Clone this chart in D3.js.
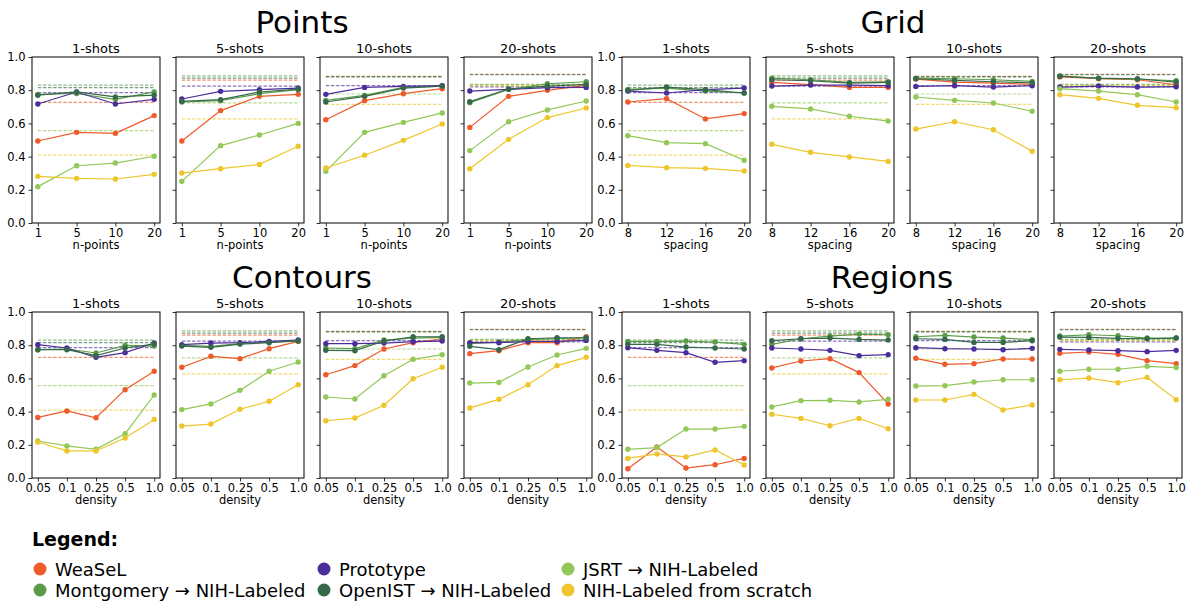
<!DOCTYPE html>
<html>
<head>
<meta charset="utf-8">
<script src="https://d3js.org/d3.v7.min.js"></script>
<style>
  body { margin: 0; background: #fff; }
  text { font-family: "DejaVu Sans", sans-serif; fill: #000; }
</style>
</head>
<body>
<div id="svg"></div>
<script>
// series, in legend order (column-major, 3 columns)
var seriesNames = ["WeaSeL", "Montgomery \u2192 NIH-Labeled", "Prototype", "OpenIST \u2192 NIH-Labeled", "JSRT \u2192 NIH-Labeled", "NIH-Labeled from scratch"];
var seriesColors = ["#ef5a2a", "#5b9c48", "#4b2d9b", "#36684a", "#92c857", "#eec62b"];

var groupNames = ["Points", "Grid", "Contours", "Regions"];
var shotNames = ["1-shots", "5-shots", "10-shots", "20-shots"];
var pointsTicks = ["1", "5", "10", "20"];
var gridTicks = ["8", "12", "16", "20"];
var densityTicks = ["0.05", "0.1", "0.25", "0.5", "1.0"];
var xLabels = ["n-points", "spacing", "density", "density"];
var yTicks = [0, 0.2, 0.4, 0.6, 0.8, 1.0];

// dashed reference lines, one value per shot count (1, 5, 10, 20)
var base_WeaSeL = [0.727, 0.861, 0.883, 0.896];
var base_Montgomery = [0.831, 0.886, 0.880, 0.835];
var base_Prototype = [0.785, 0.825, 0.827, 0.820];
var base_OpenIST = [0.815, 0.873, 0.881, 0.894];
var base_JSRT = [0.556, 0.724, 0.777, 0.831];
var base_NIH = [0.409, 0.627, 0.715, 0.827];

// Points (n-points 1,5,10,20), rows = 1,5,10,20 shots
var points_WeaSeL = [[0.494, 0.546, 0.540, 0.647], [0.494, 0.677, 0.763, 0.775], [0.622, 0.737, 0.779, 0.809], [0.576, 0.763, 0.799, 0.831]];
var points_Montgomery = [[0.775, 0.780, 0.745, 0.790], [0.729, 0.737, 0.779, 0.803], [0.739, 0.769, 0.817, 0.825], [0.725, 0.805, 0.839, 0.851]];
var points_Prototype = [[0.717, 0.789, 0.717, 0.745], [0.747, 0.793, 0.803, 0.813], [0.775, 0.817, 0.823, 0.827], [0.795, 0.805, 0.815, 0.817]];
var points_OpenIST = [[0.770, 0.790, 0.760, 0.770], [0.733, 0.743, 0.789, 0.807], [0.729, 0.763, 0.813, 0.825], [0.731, 0.807, 0.825, 0.835]];
var points_JSRT = [[0.219, 0.345, 0.361, 0.402], [0.251, 0.466, 0.530, 0.600], [0.311, 0.546, 0.606, 0.663], [0.436, 0.610, 0.681, 0.735]];
var points_NIH = [[0.281, 0.269, 0.265, 0.293], [0.301, 0.327, 0.353, 0.462], [0.331, 0.408, 0.498, 0.596], [0.327, 0.504, 0.635, 0.693]];

// Grid (spacing 8,12,16,20)
var grid_WeaSeL = [[0.729, 0.749, 0.627, 0.659], [0.847, 0.833, 0.817, 0.817], [0.867, 0.849, 0.843, 0.835], [0.880, 0.869, 0.863, 0.833]];
var grid_Montgomery = [[0.805, 0.813, 0.795, 0.783], [0.873, 0.863, 0.847, 0.851], [0.873, 0.869, 0.863, 0.853], [0.886, 0.871, 0.867, 0.857]];
var grid_Prototype = [[0.795, 0.783, 0.803, 0.813], [0.825, 0.831, 0.831, 0.827], [0.823, 0.827, 0.819, 0.827], [0.819, 0.825, 0.819, 0.821]];
var grid_OpenIST = [[0.799, 0.819, 0.803, 0.783], [0.863, 0.857, 0.843, 0.847], [0.869, 0.859, 0.851, 0.845], [0.884, 0.873, 0.869, 0.849]];
var grid_JSRT = [[0.526, 0.484, 0.478, 0.378], [0.703, 0.687, 0.643, 0.614], [0.759, 0.739, 0.723, 0.673], [0.809, 0.795, 0.773, 0.729]];
var grid_NIH = [[0.347, 0.333, 0.329, 0.313], [0.474, 0.426, 0.398, 0.371], [0.566, 0.610, 0.562, 0.432], [0.773, 0.751, 0.709, 0.695]];

// Contours (density 0.05 .. 1.0)
var contours_WeaSeL = [[0.365, 0.404, 0.363, 0.532, 0.643], [0.667, 0.733, 0.719, 0.779, 0.823], [0.622, 0.677, 0.777, 0.815, 0.839], [0.749, 0.767, 0.815, 0.815, 0.851]];
var contours_Montgomery = [[0.773, 0.777, 0.753, 0.799, 0.795], [0.799, 0.793, 0.809, 0.819, 0.825], [0.783, 0.779, 0.831, 0.843, 0.847], [0.809, 0.819, 0.835, 0.839, 0.845]];
var contours_Prototype = [[0.803, 0.783, 0.727, 0.755, 0.813], [0.803, 0.813, 0.815, 0.823, 0.831], [0.809, 0.809, 0.813, 0.821, 0.825], [0.815, 0.815, 0.823, 0.823, 0.829]];
var contours_OpenIST = [[0.773, 0.773, 0.737, 0.783, 0.807], [0.795, 0.787, 0.807, 0.815, 0.827], [0.769, 0.767, 0.825, 0.851, 0.851], [0.793, 0.773, 0.839, 0.845, 0.845]];
var contours_JSRT = [[0.223, 0.193, 0.173, 0.267, 0.500], [0.412, 0.446, 0.528, 0.643, 0.699], [0.488, 0.476, 0.616, 0.715, 0.743], [0.572, 0.576, 0.669, 0.741, 0.781]];
var contours_NIH = [[0.217, 0.163, 0.163, 0.241, 0.353], [0.313, 0.325, 0.414, 0.462, 0.562], [0.345, 0.361, 0.438, 0.598, 0.667], [0.422, 0.474, 0.562, 0.677, 0.727]];

// Regions (density 0.05 .. 1.0)
var regions_WeaSeL = [[0.056, 0.187, 0.060, 0.080, 0.118], [0.663, 0.705, 0.719, 0.635, 0.446], [0.721, 0.685, 0.689, 0.717, 0.717], [0.751, 0.759, 0.745, 0.707, 0.689]];
var regions_Montgomery = [[0.823, 0.823, 0.825, 0.819, 0.805], [0.805, 0.839, 0.855, 0.867, 0.863], [0.851, 0.859, 0.849, 0.843, 0.833], [0.855, 0.863, 0.857, 0.843, 0.843]];
var regions_Prototype = [[0.785, 0.769, 0.755, 0.697, 0.707], [0.783, 0.777, 0.769, 0.737, 0.743], [0.785, 0.779, 0.777, 0.773, 0.781], [0.775, 0.771, 0.767, 0.761, 0.769]];
var regions_OpenIST = [[0.805, 0.805, 0.789, 0.783, 0.777], [0.827, 0.839, 0.843, 0.835, 0.831], [0.839, 0.835, 0.817, 0.817, 0.827], [0.849, 0.847, 0.841, 0.839, 0.843]];
var regions_JSRT = [[0.173, 0.183, 0.295, 0.295, 0.311], [0.428, 0.466, 0.468, 0.458, 0.474], [0.554, 0.556, 0.578, 0.592, 0.592], [0.643, 0.655, 0.655, 0.673, 0.665]];
var regions_NIH = [[0.118, 0.145, 0.127, 0.169, 0.078], [0.384, 0.359, 0.315, 0.359, 0.297], [0.470, 0.470, 0.504, 0.410, 0.440], [0.592, 0.602, 0.574, 0.606, 0.472]];

// tables built from the arrays above
var baselines = [base_WeaSeL, base_Montgomery, base_Prototype, base_OpenIST, base_JSRT, base_NIH];
var groupTicks = [pointsTicks, gridTicks, densityTicks, densityTicks];
var groupData = [
    [points_WeaSeL, points_Montgomery, points_Prototype, points_OpenIST, points_JSRT, points_NIH],
    [grid_WeaSeL, grid_Montgomery, grid_Prototype, grid_OpenIST, grid_JSRT, grid_NIH],
    [contours_WeaSeL, contours_Montgomery, contours_Prototype, contours_OpenIST, contours_JSRT, contours_NIH],
    [regions_WeaSeL, regions_Montgomery, regions_Prototype, regions_OpenIST, regions_JSRT, regions_NIH]
];

// layout
var W = 1187, H = 604;
var panelW = 128, panelH = 166, panelStep = 144;
var groupLeft = [32, 622, 32, 622];
var groupTop = [57, 57, 312, 312];
var titleX = [302, 893, 302, 892];

var svg = d3.select("#svg").append("svg")
    .attr("width", W)
    .attr("height", H)
    .style("display", "block");

svg.append("rect").attr("width", W).attr("height", H).attr("fill", "#fff");

var y = d3.scaleLinear().domain([0, 1]).range([panelH, 0]);

groupNames.forEach(function(gName, gi) {
    // group title
    svg.append("text")
        .attr("x", titleX[gi])
        .attr("y", groupTop[gi] - 24)
        .attr("text-anchor", "middle")
        .style("font-size", "31px")
        .text(gName);

    var ticks = groupTicks[gi];
    var x = d3.scalePoint()
        .domain(ticks)
        .range([0, panelW])
        .padding(0.05 * (ticks.length - 1));

    shotNames.forEach(function(sName, si) {
        var g = svg.append("g")
            .attr("transform", "translate(" + (groupLeft[gi] + si * panelStep) + "," + groupTop[gi] + ")");

        // subplot title
        g.append("text")
            .attr("x", panelW / 2)
            .attr("y", -4)
            .attr("text-anchor", "middle")
            .style("font-size", "13px")
            .text(sName);

        // axes
        var yAxis = d3.axisLeft(y).tickValues(yTicks).tickSize(3.5).tickPadding(3)
            .tickFormat(si === 0 ? d3.format(".1f") : "");
        var ya = g.append("g").call(yAxis);
        var xa = g.append("g").attr("transform", "translate(0," + panelH + ")")
            .call(d3.axisBottom(x).tickSize(3.5).tickPadding(2));
        [ya, xa].forEach(function(a) {
            a.select(".domain").remove();
            a.selectAll("line").attr("stroke", "#000").attr("stroke-width", 0.8);
            a.selectAll("text").style("font-size", "11.5px").attr("fill", "#000")
                .style("font-family", "DejaVu Sans, sans-serif");
        });

        g.append("text")
            .attr("x", panelW / 2)
            .attr("y", panelH + 26)
            .attr("text-anchor", "middle")
            .style("font-size", "11.5px")
            .text(xLabels[gi]);

        // dashed reference lines
        baselines.forEach(function(b, k) {
            g.append("line")
                .attr("x1", x(ticks[0]))
                .attr("x2", x(ticks[ticks.length - 1]))
                .attr("y1", y(b[si]))
                .attr("y2", y(b[si]))
                .attr("stroke", seriesColors[k])
                .attr("stroke-opacity", 0.65)
                .attr("stroke-width", 1.2)
                .attr("stroke-dasharray", "3.5,1.6");
        });

        // series
        var line = d3.line()
            .x(function(d, i) { return x(ticks[i]); })
            .y(function(d) { return y(d); });

        groupData[gi].forEach(function(series, k) {
            var vals = series[si];
            g.append("path")
                .datum(vals)
                .attr("d", line)
                .attr("fill", "none")
                .attr("stroke", seriesColors[k])
                .attr("stroke-width", 1.2);
            g.selectAll(".pt" + k)
                .data(vals)
                .enter()
                .append("circle")
                .attr("cx", function(d, i) { return x(ticks[i]); })
                .attr("cy", function(d) { return y(d); })
                .attr("r", 2.7)
                .attr("fill", seriesColors[k]);
        });

        // frame
        g.append("rect")
            .attr("width", panelW)
            .attr("height", panelH)
            .attr("fill", "none")
            .attr("stroke", "#000")
            .attr("stroke-width", 1);
    });
});

// legend
svg.append("text")
    .attr("x", 32)
    .attr("y", 546)
    .style("font-size", "19px")
    .style("font-weight", "bold")
    .text("Legend:");

var legendCols = [40, 324, 568];
var legendRows = [569, 590];
seriesNames.forEach(function(name, k) {
    var cx = legendCols[Math.floor(k / 2)];
    var cy = legendRows[k % 2];
    svg.append("circle")
        .attr("cx", cx)
        .attr("cy", cy)
        .attr("r", 6.5)
        .attr("fill", seriesColors[k]);
    svg.append("text")
        .attr("x", cx + 15)
        .attr("y", cy + 6.5)
        .style("font-size", "18px")
        .text(name);
});
</script>
</body>
</html>
